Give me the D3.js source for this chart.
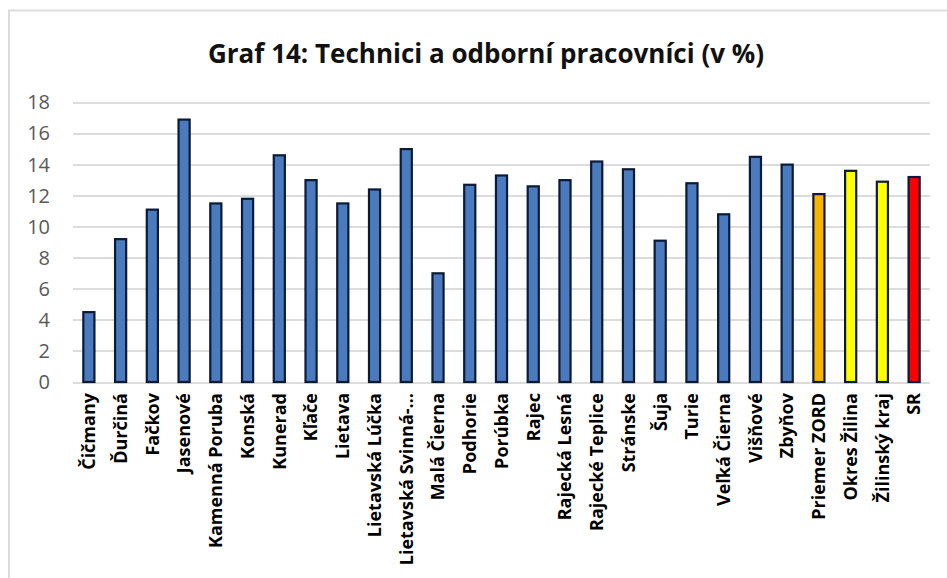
<!DOCTYPE html>
<html>
<head>
<meta charset="utf-8">
<script src="https://cdn.jsdelivr.net/npm/d3@7"></script>
<style>
	body { margin: 0; background: #fff; }
	svg { display: block; }
</style>
</head>
<body>
<div id="chart"></div>
<script>
var categories = [ "Čičmany", "Ďurčiná", "Fačkov", "Jasenové", "Kamenná Poruba", "Konská", "Kunerad", "Kľače",
	"Lietava", "Lietavská Lúčka", "Lietavská Svinná-…", "Malá Čierna", "Podhorie", "Porúbka", "Rajec",
	"Rajecká Lesná", "Rajecké Teplice", "Stránske", "Šuja", "Turie", "Veľká Čierna", "Višňové", "Zbyňov",
	"Priemer ZORD", "Okres Žilina", "Žilinský kraj", "SR" ];
var values = [ 4.5, 9.2, 11.1, 16.9, 11.5, 11.8, 14.6, 13.0,
	11.5, 12.4, 15.0, 7.0, 12.7, 13.3, 12.6,
	13.0, 14.2, 13.7, 9.1, 12.8, 10.8, 14.5, 14.0,
	12.1, 13.6, 12.9, 13.2 ];
var yTicks = [ 0, 2, 4, 6, 8, 10, 12, 14, 16, 18 ];
var title = "Graf 14: Technici a odborní pracovníci (v %)";

var barColor = function( name )
{
	if( name == "Priemer ZORD" ) return "#f7b500";
	if( name == "Okres Žilina" || name == "Žilinský kraj" ) return "#ffff00";
	if( name == "SR" ) return "#ff0000";
	return "#4a7bbf";
};

var width = 947, height = 578;
var margin = { top: 102.5, right: 17, bottom: 196, left: 73 };
var size = {
	width: width - margin.left - margin.right,
	height: height - margin.top - margin.bottom
};

var svg = d3.select( "#chart" ).append( "svg" )
	.attr( "width", width )
	.attr( "height", height );

// frame (only top and left edge visible)
svg.append( "path" )
	.attr( "d", "M9,578 L9,10.5 L947,10.5" )
	.attr( "fill", "none" )
	.attr( "stroke", "#dcdcdc" )
	.attr( "stroke-width", 2 );

svg.append( "text" )
	.attr( "x", 486 )
	.attr( "y", 63 )
	.attr( "text-anchor", "middle" )
	.attr( "style", "font: bold 26px 'Open Sans', sans-serif; fill: #111;" )
	.text( title );

var scale = {
	x: d3.scaleBand().domain( categories ).range( [ 0, size.width ] ).paddingInner( 0.65 ).paddingOuter( 0.325 ),
	y: d3.scaleLinear().domain( [ 0, 18 ] ).range( [ size.height, 0 ] )
};

var root = svg.append( "g" )
	.attr( "transform", "translate(" + margin.left + "," + margin.top + ")" );

// gridlines
root.append( "g" )
	.selectAll( "line" )
	.data( yTicks )
	.enter()
	.append( "line" )
	.attr( "x1", 0 )
	.attr( "x2", size.width )
	.attr( "y1", function( d ) { return Math.round( scale.y( d ) ) + 0.5; } )
	.attr( "y2", function( d ) { return Math.round( scale.y( d ) ) + 0.5; } )
	.attr( "stroke", "#dcdcdc" )
	.attr( "stroke-width", 2 );

// y axis labels
var yAxis = root.append( "g" )
	.attr( "transform", "translate(-23,0)" )
	.call( d3.axisLeft( scale.y ).tickValues( yTicks ).tickSize( 0 ).tickPadding( 0 ) );
yAxis.select( ".domain" ).remove();
yAxis.selectAll( "text" )
	.attr( "style", "font: 20px 'Open Sans', sans-serif; fill: #595959;" );

// bars
root.append( "g" )
	.selectAll( "rect" )
	.data( values )
	.enter()
	.append( "rect" )
	.attr( "x", function( d, i ) { return scale.x( categories[ i ] ); } )
	.attr( "y", function( d ) { return scale.y( d ); } )
	.attr( "width", scale.x.bandwidth() )
	.attr( "height", function( d ) { return size.height - scale.y( d ); } )
	.attr( "fill", function( d, i ) { return barColor( categories[ i ] ); } )
	.attr( "stroke", "#0c1a36" )
	.attr( "stroke-width", 2.2 );

// x axis labels
var xAxis = root.append( "g" )
	.attr( "transform", "translate(0," + size.height + ")" )
	.call( d3.axisBottom( scale.x ).tickSize( 0 ).tickPadding( 0 ) );
xAxis.select( ".domain" ).remove();
xAxis.selectAll( "text" )
	.attr( "transform", "rotate(-90)" )
	.attr( "x", -11 )
	.attr( "y", 0 )
	.attr( "dy", "0.35em" )
	.attr( "text-anchor", "end" )
	.attr( "style", "font: bold 18px 'Open Sans', sans-serif; fill: #000;" );
</script>
</body>
</html>
